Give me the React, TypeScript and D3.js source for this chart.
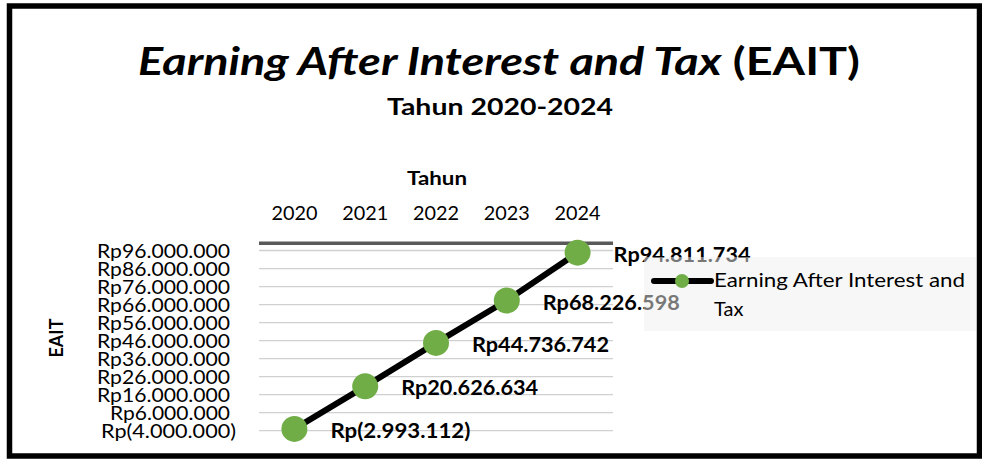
import React from "react";
import * as d3 from "d3";

const years = ["2020", "2021", "2022", "2023", "2024"];
const eait = [-2993112, 20626634, 44736742, 68226598, 94811734];
const dataLabels = ["Rp(2.993.112)", "Rp20.626.634", "Rp44.736.742", "Rp68.226.598", "Rp94.811.734"];
const yTicks = [-4000000, 6000000, 16000000, 26000000, 36000000, 46000000, 56000000, 66000000, 76000000, 86000000, 96000000];
const yTickLabels = ["Rp(4.000.000)", "Rp6.000.000", "Rp16.000.000", "Rp26.000.000", "Rp36.000.000", "Rp46.000.000", "Rp56.000.000", "Rp66.000.000", "Rp76.000.000", "Rp86.000.000", "Rp96.000.000"];
const titleItalic = "Earning After Interest and Tax";
const titleRest = " (EAIT)";
const subtitle = "Tahun 2020-2024";
const xTitle = "Tahun";
const yTitle = "EAIT";
const legendLines = ["Earning After Interest and", "Tax"];

const FONT = "Lato, 'Open Sans', sans-serif";

export default function App() {
  const W = 982, H = 459;
  const x = d3.scaleBand().domain(years).range([259, 613]);
  const y = d3.scaleLinear().domain([-4000000, 100000000]).range([430.7, 243.3]);
  const cx = (i: number) => (x(years[i]) as number) + x.bandwidth() / 2;
  const line = d3.line<number>().x((_, i) => cx(i)).y((d) => y(d));

  return (
    <svg width={W} height={H} style={{ position: "absolute", left: 0, top: 0, background: "#fff" }} fontFamily={FONT}>
      <rect x={0} y={0} width={W} height={H} fill="#fff" />
      {/* border */}
      <rect x={9.5} y={6} width={970} height={450} fill="none" stroke="#000" strokeWidth={5.5} />
      {/* title */}
      <text x={138} y={75} fontSize={39} fontWeight={700} fill="#000" textLength={722} lengthAdjust="spacingAndGlyphs">
        <tspan fontStyle="italic">{titleItalic}</tspan>
        <tspan>{titleRest}</tspan>
      </text>
      <text x={387} y={115} fontSize={22} fontWeight={700} fill="#000" textLength={226} lengthAdjust="spacingAndGlyphs">{subtitle}</text>
      {/* x axis title */}
      <text x={407} y={185} fontSize={18} fontWeight={700} fill="#000" textLength={60} lengthAdjust="spacingAndGlyphs">{xTitle}</text>
      {/* y axis title */}
      <text transform="translate(63,338) rotate(-90)" textAnchor="middle" fontSize={18} fontWeight={700} fill="#000">{yTitle}</text>
      {/* category labels */}
      {years.map((yr, i) => (
        <text key={yr} x={cx(i)} y={220} textAnchor="middle" fontSize={20} fill="#000" textLength={46} lengthAdjust="spacingAndGlyphs">{yr}</text>
      ))}
      {/* gridlines */}
      {yTicks.map((t) => (
        <line key={t} x1={259} x2={613} y1={y(t)} y2={y(t)} stroke="#d0d0d0" strokeWidth={1.3} />
      ))}
      {/* top axis line */}
      <line x1={259} x2={613} y1={y(100000000)} y2={y(100000000)} stroke="#595959" strokeWidth={3.5} />
      {/* y tick labels */}
      {yTicks.map((t, i) => {
        const lab = yTickLabels[i];
        const neg = t < 0;
        const w = neg ? 135 : lab.length === 11 ? 120 : 133;
        return (
          <text key={t} x={neg ? 236 - w : 230 - w} y={y(t) + 7} fontSize={19} fill="#000" textLength={w} lengthAdjust="spacingAndGlyphs">{lab}</text>
        );
      })}
      {/* series line */}
      <path d={line(eait) || ""} fill="none" stroke="#000" strokeWidth={6} />
      {eait.map((v, i) => (
        <circle key={i} cx={cx(i)} cy={y(v)} r={13} fill="#70ad47" />
      ))}
      {/* data labels */}
      {eait.map((v, i) => (
        <text key={"l" + i} x={cx(i) + 36} y={y(v) + 9} fontSize={20} fontWeight={700} fill="#000" textLength={i === 0 ? 140 : 137} lengthAdjust="spacingAndGlyphs">{dataLabels[i]}</text>
      ))}
      {/* legend */}
      <rect x={644} y={257} width={332} height={74} fill="rgb(240,240,240)" fillOpacity={0.5} />
      <line x1={654} x2={711} y1={281} y2={281} stroke="#000" strokeWidth={6} strokeLinecap="round" />
      <circle cx={682} cy={281} r={7} fill="#70ad47" />
      <text x={714} y={287} fontSize={20} fill="#000" textLength={251} lengthAdjust="spacingAndGlyphs">{legendLines[0]}</text>
      <text x={714} y={316} fontSize={20} fill="#000">{legendLines[1]}</text>
    </svg>
  );
}
